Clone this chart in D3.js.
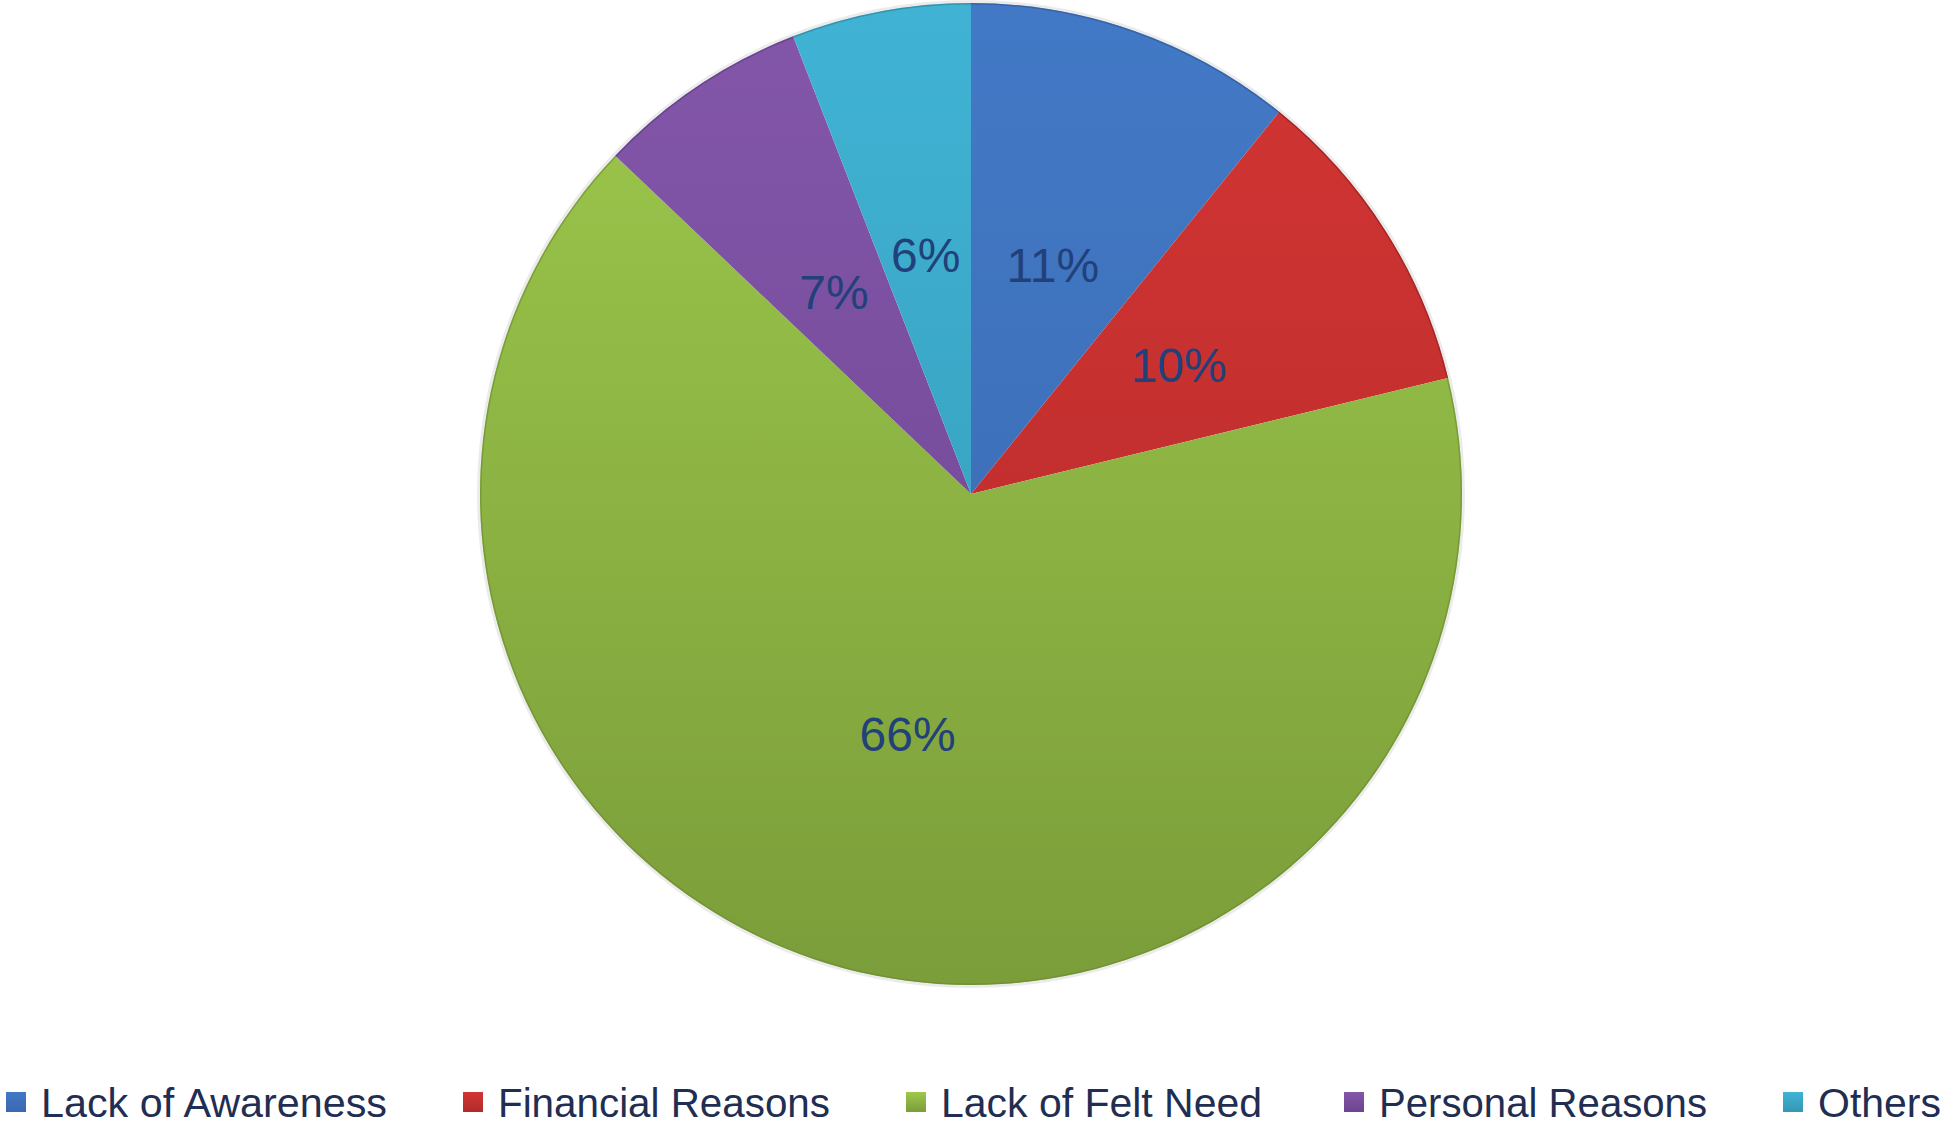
<!DOCTYPE html>
<html><head><meta charset="utf-8">
<script src="https://cdn.jsdelivr.net/npm/d3@7"></script>
<style>html,body{margin:0;padding:0;background:#fff;}svg{display:block;}</style>
</head><body>
<svg id="chart" width="1946" height="1126"></svg>
<script>
const categories = ["Lack of Awareness", "Financial Reasons", "Lack of Felt Need", "Personal Reasons", "Others"];
const values = [10.8, 10.4, 65.9, 7.0, 5.9];
const labels = ["11%", "10%", "66%", "7%", "6%"];
const colorsTop = ["#4279c6", "#d23533", "#9dc94c", "#8356aa", "#40b3d4"];
const colorsBottom = ["#3a68ae", "#b32a2a", "#7b9d3a", "#6c448f", "#3497b6"];
const edgeColors = ["#2f568f", "#8e2020", "#6a8a30", "#5a3a7a", "#2c7f98"];

// legend layout (left of each square, and text width)
const legendX = [6, 463, 906, 1344, 1783];
const legendTextW = [346, 332, 321, 328, 123];

const cx = 971, cy = 494, R = 491;
const svg = d3.select("#chart");
const defs = svg.append("defs");
categories.forEach((c, i) => {
  const g = defs.append("linearGradient").attr("id", "g" + i)
    .attr("gradientUnits", "userSpaceOnUse")
    .attr("x1", 0).attr("y1", -R).attr("x2", 0).attr("y2", R);
  g.append("stop").attr("offset", "0%").attr("stop-color", colorsTop[i]);
  g.append("stop").attr("offset", "100%").attr("stop-color", colorsBottom[i]);
  const lgr = defs.append("linearGradient").attr("id", "lg" + i).attr("x1", 0).attr("y1", 0).attr("x2", 0).attr("y2", 1);
  lgr.append("stop").attr("offset", "0%").attr("stop-color", colorsTop[i]);
  lgr.append("stop").attr("offset", "100%").attr("stop-color", colorsBottom[i]);
});

const data = categories.map((c, i) => ({cat: c, value: values[i], label: labels[i], i}));
const pie = d3.pie().value(d => d.value).sort(null);
const arcs = pie(data);
const arc = d3.arc().innerRadius(0).outerRadius(R);
const edgeArc = d3.arc().innerRadius(R - 1.5).outerRadius(R);
const labelArc = d3.arc().innerRadius(246).outerRadius(246);

const g = svg.append("g").attr("transform", `translate(${cx},${cy})`);
g.append("circle").attr("r", R + 1.5).attr("fill", "none").attr("stroke", "rgba(0,0,0,0.08)").attr("stroke-width", 3);
g.selectAll("path.slice").data(arcs).join("path")
  .attr("class", "slice")
  .attr("d", arc)
  .attr("fill", d => `url(#g${d.data.i})`);
g.selectAll("path.edge").data(arcs).join("path")
  .attr("class", "edge")
  .attr("d", edgeArc)
  .attr("fill", d => edgeColors[d.data.i])
  .attr("opacity", 0.6);

g.selectAll("text.lbl").data(arcs).join("text")
  .attr("class", "lbl")
  .attr("x", d => labelArc.centroid(d)[0])
  .attr("y", d => labelArc.centroid(d)[1] + 3)
  .attr("text-anchor", "middle")
  .attr("dominant-baseline", "central")
  .attr("font-family", "Liberation Sans, Arial, sans-serif")
  .attr("font-size", 48)
  .attr("fill", "#22407a")
  .text(d => d.data.label);

// legend
const sq = 20, gapText = 15, baseY = 1117;
const items = svg.append("g").selectAll("g.item").data(data).join("g")
  .attr("class", "item")
  .attr("transform", d => `translate(${legendX[d.i]},0)`);
items.append("rect").attr("x", 0).attr("y", 1092).attr("width", sq).attr("height", sq)
  .attr("fill", d => `url(#lg${d.i})`);
items.append("text").attr("x", sq + gapText).attr("y", baseY)
  .attr("font-family", "Liberation Sans, Arial, sans-serif")
  .attr("font-size", 41.5)
  .attr("fill", "#1f2e52")
  .attr("textLength", d => legendTextW[d.i])
  .attr("lengthAdjust", "spacingAndGlyphs")
  .text(d => d.cat);
</script>
</body></html>
